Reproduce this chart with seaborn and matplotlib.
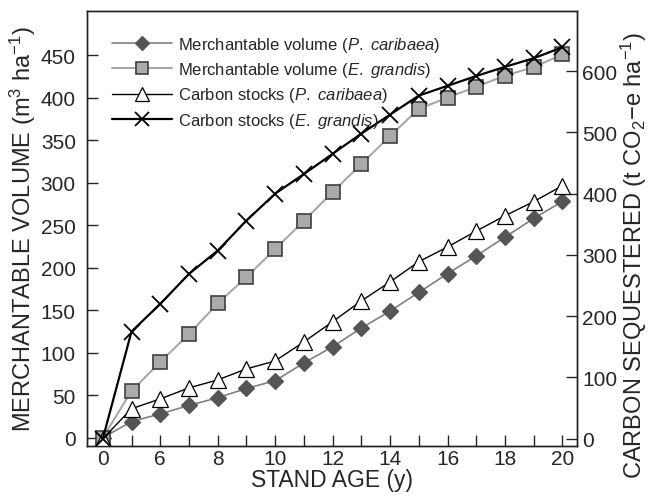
import matplotlib
matplotlib.use('Agg')
import pandas as pd
import seaborn as sns
import matplotlib.pyplot as plt

# 数据
ages = [0, 5, 6, 7, 8, 9, 10, 11, 12, 13, 14, 15, 16, 17, 18, 19, 20]
vol_pc = [0, 19, 28, 38, 47, 58, 67, 88, 107, 129, 149, 171, 193, 214, 236, 258, 278]
vol_eg = [0, 55, 89, 122, 158, 189, 222, 255, 289, 322, 355, 387, 400, 413, 426, 436, 451]
carbon_pc = [0, 49, 65, 83, 96, 114, 127, 158, 191, 225, 256, 289, 313, 339, 364, 387, 413]
carbon_eg = [0, 175, 220, 269, 307, 356, 400, 432, 465, 498, 529, 560, 576, 592, 607, 621, 639]
shown_ticks = [0, 6, 8, 10, 12, 14, 16, 18, 20]

sns.set_style('ticks')
plt.rcParams['font.family'] = ['Liberation Sans', 'DejaVu Sans']
plt.rcParams['mathtext.fontset'] = 'custom'
plt.rcParams['mathtext.rm'] = 'Liberation Sans'
plt.rcParams['mathtext.it'] = 'Liberation Sans:italic'

df = pd.DataFrame({'age': [str(a) for a in ages], 'vol_pc': vol_pc, 'vol_eg': vol_eg,
                   'c_pc': carbon_pc, 'c_eg': carbon_eg})

fig = plt.figure(figsize=(6.54, 5.02), dpi=100)
ax = fig.add_axes([0.133, 0.110, 0.749, 0.866])
ax2 = ax.twinx()

sns.pointplot(data=df, x='age', y='vol_pc', ax=ax, color='#808080', marker='D',
              markersize=8, markerfacecolor='#555555', markeredgecolor='#555555',
              linewidth=1.2, errorbar=None,
              label='Merchantable volume ($\\it{P.\\ caribaea}$)')
sns.pointplot(data=df, x='age', y='vol_eg', ax=ax, color='#a8a8a8', marker='s',
              markersize=10, markerfacecolor='#aaaaaa', markeredgecolor='#404040',
              markeredgewidth=1.2, linewidth=1.5, errorbar=None,
              label='Merchantable volume ($\\it{E.\\ grandis}$)')
sns.pointplot(data=df, x='age', y='c_pc', ax=ax2, color='black', marker='^',
              markersize=12, markerfacecolor='white', markeredgecolor='black',
              markeredgewidth=0.9, linewidth=1.0, errorbar=None,
              label='Carbon stocks ($\\it{P.\\ caribaea}$)')
sns.pointplot(data=df, x='age', y='c_eg', ax=ax2, color='black', marker='x',
              markersize=12, markeredgewidth=1.3, linewidth=1.6, errorbar=None,
              label='Carbon stocks ($\\it{E.\\ grandis}$)')

# pointplot 会自动加图例 先去掉 后面统一画
for a in (ax, ax2):
    if a.get_legend() is not None:
        a.get_legend().remove()

ax.set_xlim(-0.55, 16.5)
ax.set_ylim(-9.5, 502)
ax2.set_ylim(-11.5, 698)
ax.set_yticks(range(0, 451, 50))
ax2.set_yticks(range(0, 601, 100))
ax.set_xticks(range(len(ages)))
ax.set_xticklabels([str(a) if a in shown_ticks else '' for a in ages])

for a in (ax, ax2):
    a.tick_params(direction='in', length=8, width=1, labelsize=15, pad=4)
    for s in a.spines.values():
        s.set_linewidth(1.0)
        s.set_color('#222222')
ax.tick_params(axis='x', pad=2)
ax.tick_params(axis='y', pad=8)

ax.set_xlabel('STAND AGE (y)', fontsize=16.5, labelpad=0)
ax.set_ylabel('MERCHANTABLE VOLUME (m$^3$ ha$^{-1}$)', fontsize=17, labelpad=2)
ax2.set_ylabel('CARBON SEQUESTERED (t CO$_2$\u2212e ha$^{-1}$)', fontsize=17)
ax2.yaxis.set_label_coords(1.085, 0.44)

h1, l1 = ax.get_legend_handles_labels()
h2, l2 = ax2.get_legend_handles_labels()
ax2.legend(h1 + h2, l1 + l2, loc='upper left', frameon=False, fontsize=12,
           handlelength=3.6, handletextpad=0.35, labelspacing=0.38,
           markerscale=0.85, bbox_to_anchor=(0.02, 0.98))

plt.savefig('out.png', dpi=100)
